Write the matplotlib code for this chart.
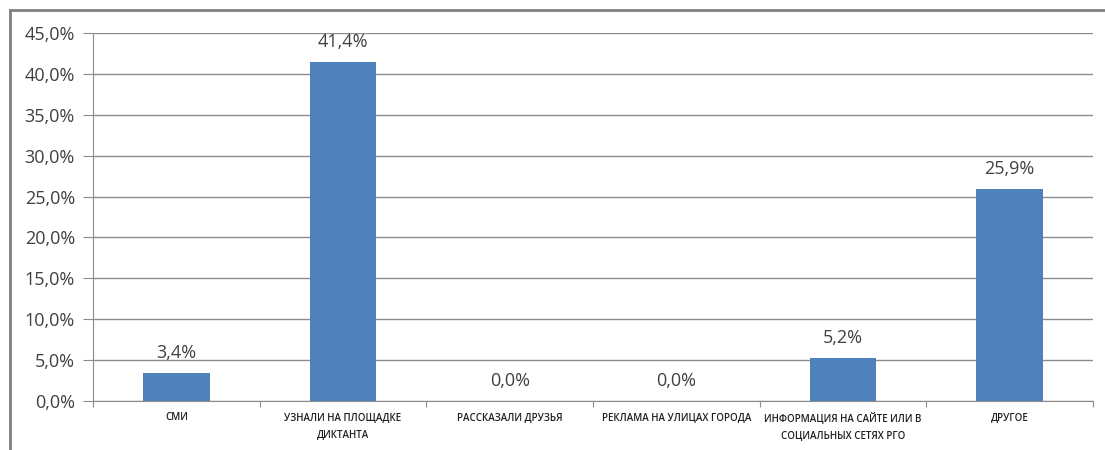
import matplotlib.pyplot as plt
from matplotlib.lines import Line2D

plt.rcParams['font.family'] = ['Open Sans', 'DejaVu Sans']

categories = ['СМИ', 'УЗНАЛИ НА ПЛОЩАДКЕ\nДИКТАНТА', 'РАССКАЗАЛИ ДРУЗЬЯ',
              'РЕКЛАМА НА УЛИЦАХ ГОРОДА', 'ИНФОРМАЦИЯ НА САЙТЕ ИЛИ В\nСОЦИАЛЬНЫХ СЕТЯХ РГО',
              'ДРУГОЕ']
values = [3.4, 41.4, 0.0, 0.0, 5.2, 25.9]
yticks = [0, 5, 10, 15, 20, 25, 30, 35, 40, 45]

W, H = 1105, 450
fig = plt.figure(figsize=(W / 100, H / 100), dpi=100)
ax = fig.add_axes([93 / W, 1 - 401 / H, 1000 / W, 368 / H])

x = range(len(values))
ax.bar(x, values, width=0.4, color='#4f81bd', zorder=3)
ax.set_xlim(-0.5, len(values) - 0.5)
ax.set_ylim(0, 45)

ax.set_yticks(yticks)
ax.set_yticklabels([f'{v:.1f}%'.replace('.', ',') for v in yticks],
                   fontsize=13, color='#404040')
ax.yaxis.grid(True, color='#8c8c8c', linewidth=1, zorder=0)
ax.tick_params(axis='y', length=7, color='#8c8c8c', pad=6)

# category boundary ticks on x axis
ax.set_xticks([i + 0.5 for i in range(-1, len(values))])
ax.set_xticklabels([])
ax.tick_params(axis='x', length=4, color='#8c8c8c', direction='out')
for i, c in enumerate(categories):
    ax.text(i, -1.4, c, ha='center', va='top', fontsize=7, color='#202020',
            fontweight='semibold', linespacing=1.7)

for s in ['top', 'right']:
    ax.spines[s].set_visible(False)
for s in ['left', 'bottom']:
    ax.spines[s].set_color('#8c8c8c')

for i, v in enumerate(values):
    ax.text(i, v + 1.4, f'{v:.1f}%'.replace('.', ','), ha='center', va='bottom',
            fontsize=13, color='#404040')

# outer chart frame
fig.add_artist(Line2D([10 / W, 1], [1 - 10 / H, 1 - 10 / H], color='#808080',
                      linewidth=2, transform=fig.transFigure))
fig.add_artist(Line2D([10 / W, 10 / W], [0, 1 - 10 / H], color='#808080',
                      linewidth=2, transform=fig.transFigure))

fig.savefig('out.png', dpi=100)
